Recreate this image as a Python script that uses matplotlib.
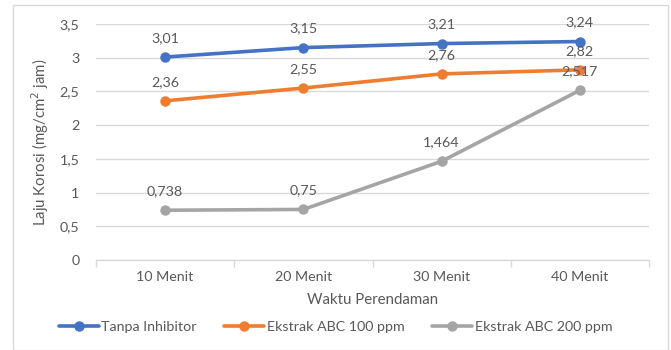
import matplotlib
matplotlib.use("Agg")
import matplotlib.pyplot as plt
from matplotlib.patches import Rectangle
from matplotlib.ticker import FixedLocator

plt.rcParams['font.family'] = ['Lato', 'DejaVu Sans']

categories = ["10 Menit", "20 Menit", "30 Menit", "40 Menit"]
tanpa_inhibitor = [3.01, 3.15, 3.21, 3.24]
ekstrak_100 = [2.36, 2.55, 2.76, 2.82]
ekstrak_200 = [0.738, 0.75, 1.464, 2.517]
label_100 = ["2,36", "2,55", "2,76", "2,82"]
label_tanpa = ["3,01", "3,15", "3,21", "3,24"]
label_200 = ["0,738", "0,75", "1,464", "2,517"]
series_names = ["Tanpa Inhibitor", "Ekstrak ABC 100 ppm", "Ekstrak ABC 200 ppm"]
colors = ["#4472C4", "#ED7D31", "#A5A5A5"]
yticks = [0, 0.5, 1, 1.5, 2, 2.5, 3, 3.5]

text_color = "#595959"
W, H = 671, 350
fig = plt.figure(figsize=(W / 100, H / 100), dpi=100)
ax = fig.add_axes([96 / W, 1 - 260 / H, (649 - 96) / W, (260 - 24) / H])

fig.patches.append(Rectangle((13 / W, 0), (668 - 13) / W, 1 - 5 / H,
                             transform=fig.transFigure, fill=False,
                             edgecolor="#D9D9D9", linewidth=1.0))

x = list(range(len(categories)))
all_series = [tanpa_inhibitor, ekstrak_100, ekstrak_200]
all_labels = [label_tanpa, label_100, label_200]
for vals, labels, name, c in zip(all_series, all_labels, series_names, colors):
    ax.plot(x, vals, color=c, linewidth=2.6, marker="o", markersize=6.5,
            label=name, solid_capstyle="round", zorder=3)
    for xi, v, t in zip(x, vals, labels):
        ax.annotate(t, (xi, v), xytext=(0, 9.5), textcoords="offset points",
                    ha="center", va="bottom", fontsize=10.3, color=text_color,
                    zorder=4)

ax.set_xlim(-0.5, len(categories) - 0.5)
ax.set_ylim(0, 3.5)
ax.set_yticks(yticks)
ax.set_yticklabels([f"{v:g}".replace(".", ",") for v in yticks])
ax.set_xticks(x)
ax.set_xticklabels(categories)
ax.xaxis.set_minor_locator(FixedLocator([i - 0.5 for i in range(len(categories) + 1)]))
ax.tick_params(axis="x", which="major", length=0, pad=8, labelsize=10.3, labelcolor=text_color)
ax.tick_params(axis="x", which="minor", length=5, color="#D9D9D9", width=1)
ax.tick_params(axis="y", length=0, pad=12, labelsize=10.3, labelcolor=text_color)
ax.grid(axis="y", color="#D9D9D9", linewidth=1)
ax.set_axisbelow(True)
for s in ["top", "right", "left"]:
    ax.spines[s].set_visible(False)
ax.spines["bottom"].set_color("#D9D9D9")
ax.spines["bottom"].set_linewidth(1)

ax.set_xlabel("Waktu Perendaman", fontsize=10.8, color=text_color, labelpad=7)
ax.set_ylabel("Laju Korosi (mg/cm$^2$ jam)", fontsize=10.8, color=text_color, labelpad=6)

fig.legend(loc="center", bbox_to_anchor=(0.5, 1 - 327 / H), ncol=3, frameon=False,
           fontsize=10.3, labelcolor=text_color, handlelength=2.8, handletextpad=0.2,
           columnspacing=1.9)

fig.savefig("out.png", dpi=100)
